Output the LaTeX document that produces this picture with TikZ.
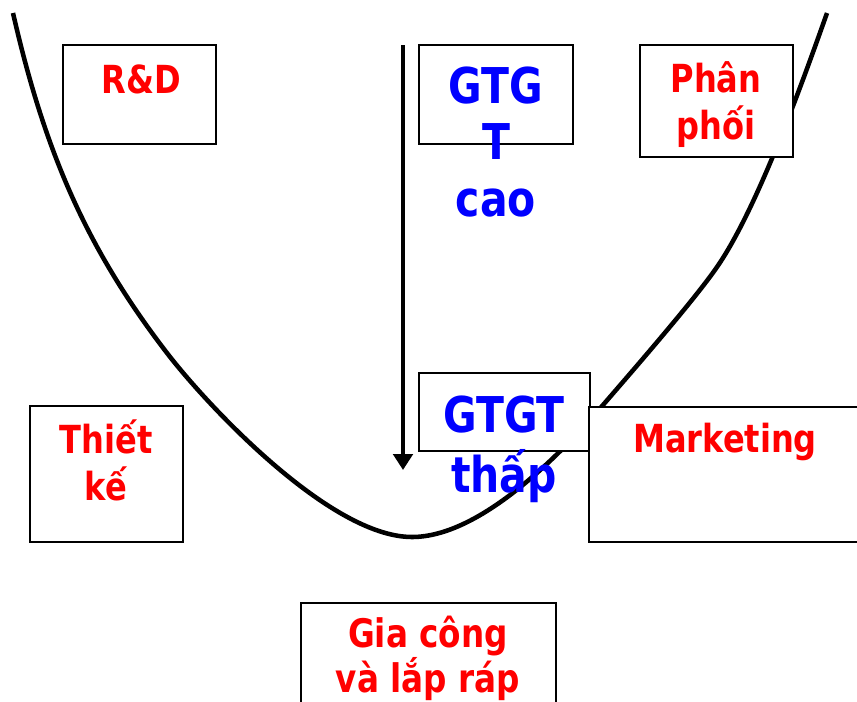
\documentclass[tikz,border=0pt]{standalone}
\usepackage{fontspec}
\newfontfamily\tah[FakeStretch=0.83]{DejaVu Sans}
\usetikzlibrary{arrows.meta,fit}
\begin{document}
\begin{tikzpicture}[x=0.75pt,y=-0.75pt,
  box/.style={draw=black, fill=white, line width=1.6pt, inner sep=0pt, outer sep=0pt},
  lbl/.style={inner sep=0pt, anchor=base},
  redlbl/.style={lbl, text=red, font=\tah\bfseries\fontsize{29}{33.5}\selectfont},
  redsmall/.style={lbl, text=red, font=\tah\bfseries\fontsize{29.5}{26.3}\selectfont},
  bluelbl/.style={lbl, text=blue, font=\tah\bfseries\fontsize{37}{42.5}\selectfont},
  curve/.style={line width=3.4pt, line join=round},
  arr/.style={line width=3.4pt, -{Triangle[width=14.5pt,length=12pt]}}
]
\useasboundingbox (0,0) rectangle (857,701);
\clip (0,0) rectangle (857,701);
\setlength{\tabcolsep}{0pt}

% value curve
\draw[curve] (13,13) .. controls (45,153) and (87,249) .. (167,353)
  .. controls (207,405) and (330,537) .. (412,537)
  .. controls (480,537) and (560,455) .. (603,405)
  .. controls (635,368) and (695,299) .. (717,267)
  .. controls (755,212) and (797,98) .. (827,13);

% boxes
\node[box, fit={(63,45) (216,144)}] (rd) {};
\node[box, fit={(419,45) (573,144)}] (high) {};
\node[box, fit={(640,45) (793,157)}] (pp) {};
\node[box, fit={(30,406) (183,542)}] (tk) {};
\node[box, fit={(419,373) (590,451)}] (low) {};
\node[box, fit={(589,407) (870,542)}] (mk) {};
\node[box, fit={(301,603) (556,712)}] (gc) {};

% arrow
\coordinate (atop) at (403,45);
\coordinate (abot) at (403,470);
\draw[arr] (atop) -- (abot);

% labels
\node[redlbl] (rdt) at (141,93) {R\&D};
\node[redlbl] (ppt) at (716,92) {\begin{tabular}[t]{c}Phân\\phối\end{tabular}};
\node[redlbl] (tkt) at (106,453) {\begin{tabular}[t]{c}Thiết\\kế\end{tabular}};
\node[redlbl] (mkt) at (725,452) {Marketing};
\node[redsmall] (gct) at (428,647) {\begin{tabular}[t]{c}Gia công\\và lắp ráp\end{tabular}};
\node[bluelbl] (hight) at (496,103) {\begin{tabular}[t]{c}GTG\\T\\cao\end{tabular}};
\node[bluelbl] (lowt) at (504,432) {\begin{tabular}[t]{c}GTGT\\thấp\end{tabular}};
\end{tikzpicture}
\end{document}
